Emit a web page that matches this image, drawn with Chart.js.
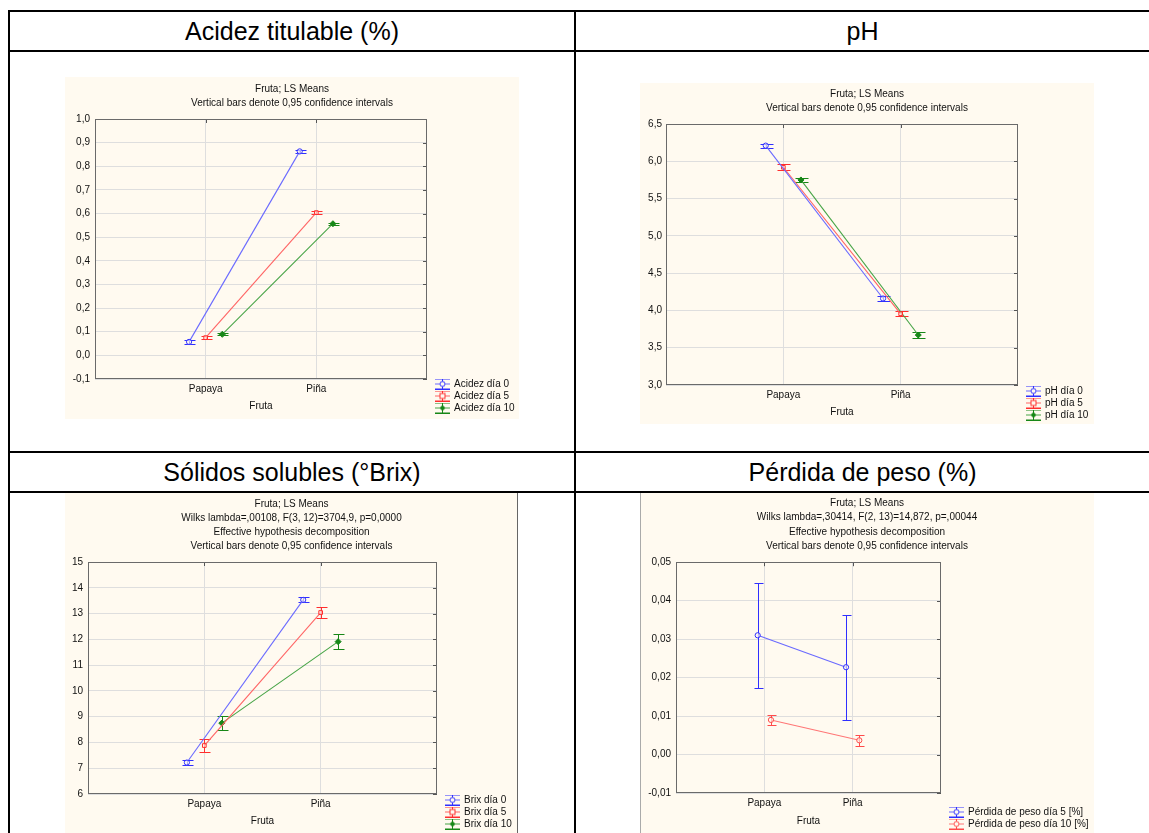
<!DOCTYPE html>
<html>
<head>
<meta charset="utf-8">
<script src="https://cdn.jsdelivr.net/npm/chart.js@4.4.1/dist/chart.umd.min.js"></script>
<style>
html,body{margin:0;padding:0;background:#fff;}
body{width:1149px;height:833px;overflow:hidden;position:relative;font-family:'Liberation Sans',Arial,sans-serif;}
.ln{position:absolute;background:#000;}
.hdr{position:absolute;text-align:center;font-size:25px;color:#000;white-space:nowrap;}
canvas{position:absolute;background:#fffaf0;}
</style>
</head>
<body>
<!-- table rules -->
<div class="ln" style="left:8px;top:10px;width:1141px;height:2px"></div>
<div class="ln" style="left:8px;top:50px;width:1141px;height:2px"></div>
<div class="ln" style="left:8px;top:451px;width:1141px;height:2px"></div>
<div class="ln" style="left:8px;top:491px;width:1141px;height:2px"></div>
<div class="ln" style="left:8px;top:10px;width:2px;height:823px"></div>
<div class="ln" style="left:574px;top:10px;width:2px;height:823px"></div>

<div class="hdr" style="left:10px;top:12px;width:564px;height:38px;line-height:38px">Acidez titulable (%)</div>
<div class="hdr" style="left:576px;top:12px;width:573px;height:38px;line-height:38px">pH</div>
<div class="hdr" style="left:10px;top:453px;width:564px;height:38px;line-height:38px">Sólidos solubles (°Brix)</div>
<div class="hdr" style="left:576px;top:453px;width:573px;height:38px;line-height:38px">Pérdida de peso (%)</div>

<canvas id="c1" width="454" height="342" style="left:65px;top:77px"></canvas>
<canvas id="c2" width="454" height="341" style="left:640px;top:83px"></canvas>
<canvas id="c3" width="453" height="342" style="left:65px;top:493px"></canvas>
<canvas id="c4" width="454" height="342" style="left:640px;top:493px"></canvas>
<div style="position:absolute;left:517px;top:493px;width:1px;height:340px;background:#666"></div>
<div style="position:absolute;left:640px;top:493px;width:1px;height:340px;background:#aaa"></div>

<script>
// ---------------- DATA ----------------
const categories = ['Papaya', 'Piña'];

const acidezLabels = ['Acidez día 0', 'Acidez día 5', 'Acidez día 10'];
const acidezDia0 = [0.057, 0.863];
const acidezDia0CI = [0.007, 0.006];
const acidezDia5 = [0.075, 0.604];
const acidezDia5CI = [0.005, 0.006];
const acidezDia10 = [0.089, 0.557];
const acidezDia10CI = [0.004, 0.004];
const acidezTicks = [-0.1, 0.0, 0.1, 0.2, 0.3, 0.4, 0.5, 0.6, 0.7, 0.8, 0.9, 1.0];

const phLabels = ['pH día 0', 'pH día 5', 'pH día 10'];
const phDia0 = [6.21, 4.16];
const phDia0CI = [0.027, 0.03];
const phDia5 = [5.92, 3.955];
const phDia5CI = [0.04, 0.035];
const phDia10 = [5.75, 3.67];
const phDia10CI = [0.03, 0.035];
const phTicks = [3.0, 3.5, 4.0, 4.5, 5.0, 5.5, 6.0, 6.5];

const brixLabels = ['Brix día 0', 'Brix día 5', 'Brix día 10'];
const brixDia0 = [7.22, 13.53];
const brixDia0CI = [0.1, 0.1];
const brixDia5 = [7.88, 13.04];
const brixDia5CI = [0.25, 0.23];
const brixDia10 = [8.75, 11.91];
const brixDia10CI = [0.26, 0.28];
const brixTicks = [6, 7, 8, 9, 10, 11, 12, 13, 14, 15];

const perdidaLabels = ['Pérdida de peso día 5 [%]', 'Pérdida de peso día 10 [%]'];
const perdidaDia5 = [0.0310, 0.0227];
const perdidaDia5CI = [0.0137, 0.0136];
const perdidaDia10 = [0.0090, 0.0037];
const perdidaDia10CI = [0.0013, 0.0014];
const perdidaTicks = [-0.01, 0.00, 0.01, 0.02, 0.03, 0.04, 0.05];

const titleShort = ['Fruta; LS Means', 'Vertical bars denote 0,95 confidence intervals'];
const titleBrix = ['Fruta; LS Means', 'Wilks lambda=,00108, F(3, 12)=3704,9, p=0,0000', 'Effective hypothesis decomposition', 'Vertical bars denote 0,95 confidence intervals'];
const titlePerdida = ['Fruta; LS Means', 'Wilks lambda=,30414, F(2, 13)=14,872, p=,00044', 'Effective hypothesis decomposition', 'Vertical bars denote 0,95 confidence intervals'];
const xAxisTitle = 'Fruta';

// ---------------- STYLE ----------------
Chart.defaults.font.family = "'Liberation Sans', Arial, sans-serif";
Chart.defaults.font.size = 10;
Chart.defaults.color = '#111';

const GRID = '#dedede';
const BLUE = {line: '#6a6aff', err: '#2f2fff', marker: 'circle', filled: false};
const RED = {line: '#ff6464', err: '#ff2e2e', marker: 'rect', filled: false};
const GREEN = {line: '#46a446', err: '#178717', marker: 'rectRot', filled: true};
const RED_C = {line: '#ff7676', err: '#ff4a4a', marker: 'circle', filled: false};
const SPREAD = 0.15;

function makeSymbol(c) {
  const cv = document.createElement('canvas');
  cv.width = 24; cv.height = 11;
  const g = cv.getContext('2d');
  g.lineWidth = 1;
  g.strokeStyle = c.err;
  g.beginPath();
  g.moveTo(8, 0.5); g.lineTo(23, 0.5);
  g.moveTo(8, 10.5); g.lineTo(23, 10.5);
  g.moveTo(15.5, 0.5); g.lineTo(15.5, 10.5);
  g.stroke();
  g.strokeStyle = c.line;
  g.beginPath(); g.moveTo(8, 5.5); g.lineTo(23, 5.5); g.stroke();
  g.strokeStyle = c.err; g.fillStyle = c.err;
  g.beginPath();
  if (c.marker === 'circle') { g.arc(15.5, 5.5, 2.5, 0, Math.PI * 2); g.fillStyle = '#fffaf0'; g.fill(); g.stroke(); }
  else if (c.marker === 'rect') { g.fillStyle = '#fffaf0'; g.fillRect(13, 3, 5, 5); g.strokeRect(13, 3, 5, 5); }
  else { g.moveTo(15.5, 2.5); g.lineTo(18.5, 5.5); g.lineTo(15.5, 8.5); g.lineTo(12.5, 5.5); g.closePath(); g.fill(); }
  return cv;
}

const framePlugin = {
  id: 'statFrame',
  beforeDatasetsDraw(chart) {
    const {ctx, chartArea: a, scales} = chart;
    const xs = scales.x, ys = scales.y;
    ctx.save();
    ctx.strokeStyle = '#555'; ctx.lineWidth = 1;
    ctx.beginPath();
    ys.ticks.forEach(t => {
      const p = Math.round(ys.getPixelForValue(t.value)) + 0.5;
      ctx.moveTo(a.right - 4, p); ctx.lineTo(a.right, p);
    });
    xs.ticks.forEach(t => {
      const p = Math.round(xs.getPixelForValue(t.value)) + 0.5;
      ctx.moveTo(p, a.top); ctx.lineTo(p, a.top + 4);
    });
    ctx.stroke();
    ctx.strokeStyle = '#6a6a6a';
    ctx.strokeRect(Math.round(a.left) + 0.5, Math.round(a.top) + 0.5, Math.round(a.width) - 1, Math.round(a.height) - 1);
    chart.data.datasets.forEach(ds => {
      ctx.strokeStyle = ds.errColor;
      ctx.beginPath();
      ds.data.forEach((pt, j) => {
        const e = ds.err[j];
        const px = Math.round(xs.getPixelForValue(pt.x)) + 0.5;
        const t = Math.round(ys.getPixelForValue(pt.y + e)) + 0.5;
        const b = Math.round(ys.getPixelForValue(pt.y - e)) + 0.5;
        const cap = ds.capHalf;
        ctx.moveTo(px, t); ctx.lineTo(px, b);
        ctx.moveTo(px - cap, t); ctx.lineTo(px + cap + 1, t);
        ctx.moveTo(px - cap, b); ctx.lineTo(px + cap + 1, b);
      });
      ctx.stroke();
    });
    ctx.restore();
  }
};

function makeChart(id, titleLines, series, yTicks, dec, g) {
  const n = series.length;
  const datasets = series.map((s, k) => {
    const off = (k - (n - 1) / 2) * SPREAD;
    return {
      label: s.label,
      data: s.values.map((v, i) => ({x: i + 1 + off, y: v})),
      err: s.ci,
      errColor: s.color.err,
      capHalf: g.cap,
      legendSymbol: makeSymbol(s.color),
      borderColor: s.color.line,
      borderWidth: 1.1,
      pointStyle: s.color.marker,
      pointRadius: s.color.marker === 'rectRot' ? 3 : 2.6,
      pointBorderWidth: 1,
      pointBorderColor: s.color.err,
      pointBackgroundColor: s.color.filled ? s.color.err : 'rgba(255,250,240,0.6)',
      fill: false,
      tension: 0
    };
  });
  return new Chart(document.getElementById(id), {
    type: 'line',
    data: {datasets},
    options: {
      responsive: false,
      animation: false,
      devicePixelRatio: 1,
      layout: {padding: {top: 0, left: 0, right: 0, bottom: g.padBottom}},
      plugins: {
        tooltip: {enabled: false},
        title: {
          display: true, text: titleLines, color: '#111',
          font: {size: 10, weight: 'normal', lineHeight: g.titleLH + 'px'},
          padding: {top: g.titleTop, bottom: g.titleBottom}
        },
        legend: {
          display: true, position: 'right', align: 'end', fullSize: true,
          maxWidth: g.legendW,
          labels: {
            usePointStyle: true, pointStyleWidth: 20, padding: 2,
            color: '#111', font: {size: 10},
            generateLabels(chart) {
              const items = Chart.defaults.plugins.legend.labels.generateLabels(chart);
              items.forEach(it => { it.pointStyle = chart.data.datasets[it.datasetIndex].legendSymbol; });
              return items;
            }
          }
        }
      },
      scales: {
        x: {
          type: 'linear', position: 'bottom', min: 0, max: categories.length + 1,
          grid: {color: GRID, drawTicks: false, lineWidth: 1},
          border: {display: false},
          ticks: {padding: 4, autoSkip: false, maxRotation: 0, callback: v => categories[v - 1] ?? ''},
          afterBuildTicks: s => { s.ticks = categories.map((c, i) => ({value: i + 1})); },
          afterFit: s => { s.height = g.xH; },
          title: {display: true, text: xAxisTitle, color: '#111', font: {size: 10, lineHeight: 1.2}, padding: {top: 0, bottom: g.fruta}}
        },
        y: {
          type: 'linear', min: yTicks[0], max: yTicks[yTicks.length - 1],
          grid: {color: GRID, drawTicks: false, lineWidth: 1},
          border: {display: false},
          ticks: {padding: g.yPad, callback: v => Number(v).toFixed(dec).replace('.', ',')},
          afterBuildTicks: s => { s.ticks = yTicks.map(v => ({value: v})); },
          afterFit: s => { s.width = g.yW; }
        }
      }
    },
    plugins: [framePlugin]
  });
}

makeChart('c1', titleShort, [
  {label: acidezLabels[0], values: acidezDia0, ci: acidezDia0CI, color: BLUE},
  {label: acidezLabels[1], values: acidezDia5, ci: acidezDia5CI, color: RED},
  {label: acidezLabels[2], values: acidezDia10, ci: acidezDia10CI, color: GREEN}
], acidezTicks, 1, {padBottom: 4, titleLH: 14, titleTop: 5, titleBottom: 9, legendW: 92, xH: 36, fruta: 3, yW: 30, yPad: 5, cap: 5});

makeChart('c2', titleShort, [
  {label: phLabels[0], values: phDia0, ci: phDia0CI, color: BLUE},
  {label: phLabels[1], values: phDia5, ci: phDia5CI, color: RED},
  {label: phLabels[2], values: phDia10, ci: phDia10CI, color: GREEN}
], phTicks, 1, {padBottom: 2, titleLH: 14, titleTop: 4, titleBottom: 9, legendW: 76, xH: 37, fruta: 4, yW: 26, yPad: 4, cap: 6});

makeChart('c3', titleBrix, [
  {label: brixLabels[0], values: brixDia0, ci: brixDia0CI, color: BLUE},
  {label: brixLabels[1], values: brixDia5, ci: brixDia5CI, color: RED},
  {label: brixLabels[2], values: brixDia10, ci: brixDia10CI, color: GREEN}
], brixTicks, 0, {padBottom: 4, titleLH: 14, titleTop: 4, titleBottom: 9, legendW: 81, xH: 37, fruta: 4, yW: 23, yPad: 5, cap: 5});

makeChart('c4', titlePerdida, [
  {label: perdidaLabels[0], values: perdidaDia5, ci: perdidaDia5CI, color: BLUE},
  {label: perdidaLabels[1], values: perdidaDia10, ci: perdidaDia10CI, color: RED_C}
], perdidaTicks, 2, {padBottom: 4, titleLH: 14.3, titleTop: 3, titleBottom: 9, legendW: 153, xH: 38, fruta: 4, yW: 36, yPad: 5, cap: 4});
</script>
</body>
</html>
